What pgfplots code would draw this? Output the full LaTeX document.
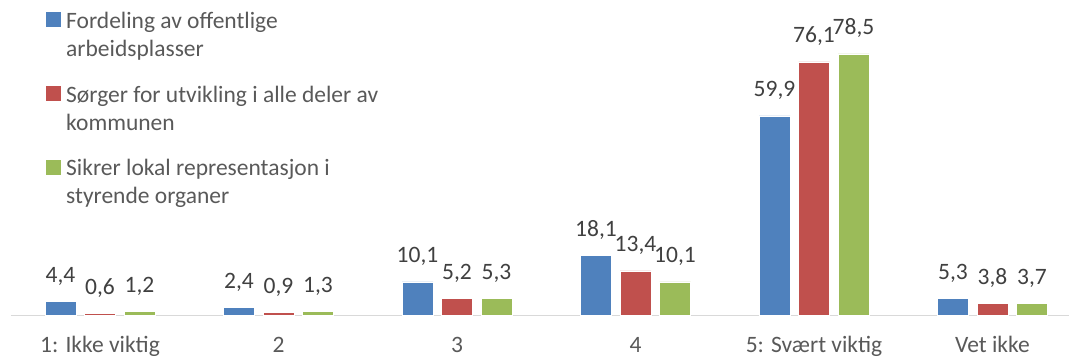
\documentclass[border=0pt]{standalone}
\usepackage{pgfplots}
\pgfplotsset{compat=1.18}
\usepackage{fontspec}
\setmainfont{Carlito}
\definecolor{c1}{HTML}{4F81BD}
\definecolor{c2}{HTML}{C0504D}
\definecolor{c3}{HTML}{9BBB59}
\definecolor{tickc}{HTML}{595959}
\definecolor{labc}{HTML}{404040}
\definecolor{axl}{HTML}{D9D9D9}
\newcommand{\cf}{\fontsize{23.5bp}{28bp}\selectfont}
\begin{document}
\begin{tikzpicture}
\begin{axis}[
  name=ax,
  x=178.5bp, y=3.336bp,
  xmin=-0.5, xmax=5.43, ymin=0, ymax=94.63,
  ybar=8.5bp, bar width=31bp,
  axis x line*=bottom, hide y axis,
  x axis line style={draw=axl, line width=1bp},
  xtick={0,1,2,3,4,5},
  xticklabels={1: Ikke viktig,2,3,4,5: Svært viktig,Vet ikke},
  major tick length=0pt, xtick style={draw=none},
  xticklabel style={font=\cf, text=tickc, anchor=base, inner sep=0pt, yshift=-37.3bp},
  nodes near coords,
  nodes near coords style={font=\cf, text=labc, anchor=base, inner sep=0pt, yshift=19bp},
  /pgf/number format/use comma,
  /pgf/number format/fixed,
  /pgf/number format/fixed zerofill,
  /pgf/number format/precision=1,
  /pgf/number format/assume math mode=true,
  clip=false,
  legend style={at={(rel axis cs:0,1)}, anchor=north west, xshift=35.25bp, yshift=-10bp,
    draw=none, fill=none, inner sep=0pt, row sep=26bp, column sep=5bp,
    font=\cf, text=tickc, cells={anchor=north west}, nodes={inner sep=0pt, align=left}},
  legend image code/.code={\fill[#1,draw=none] (0bp,-17bp) rectangle (15bp,-2bp);},
]
\addplot[fill=c1, draw=white, line width=0.6bp] coordinates {(0,4.4) (1,2.4) (2,10.1) (3,18.1) (4,59.9) (5,5.3)};
\addlegendentry{\rule{0pt}{18bp}Fordeling av offentlige\\arbeidsplasser\rule[-6bp]{0pt}{6bp}}
\addplot[fill=c2, draw=white, line width=0.6bp] coordinates {(0,0.6) (1,0.9) (2,5.2) (3,13.4) (4,76.1) (5,3.8)};
\addlegendentry{\rule{0pt}{18bp}Sørger for utvikling i alle deler av\\kommunen\rule[-6bp]{0pt}{6bp}}
\addplot[fill=c3, draw=white, line width=0.6bp] coordinates {(0,1.2) (1,1.3) (2,5.3) (3,10.1) (4,78.5) (5,3.7)};
\addlegendentry{\rule{0pt}{18bp}Sikrer lokal representasjon i\\styrende organer\rule[-6bp]{0pt}{6bp}}
\end{axis}
\pgfresetboundingbox
\path[use as bounding box] ([xshift=-10.75bp,yshift=-44.3bp]ax.south west) rectangle ([xshift=1058.25bp]ax.north west);
\end{tikzpicture}
\end{document}
